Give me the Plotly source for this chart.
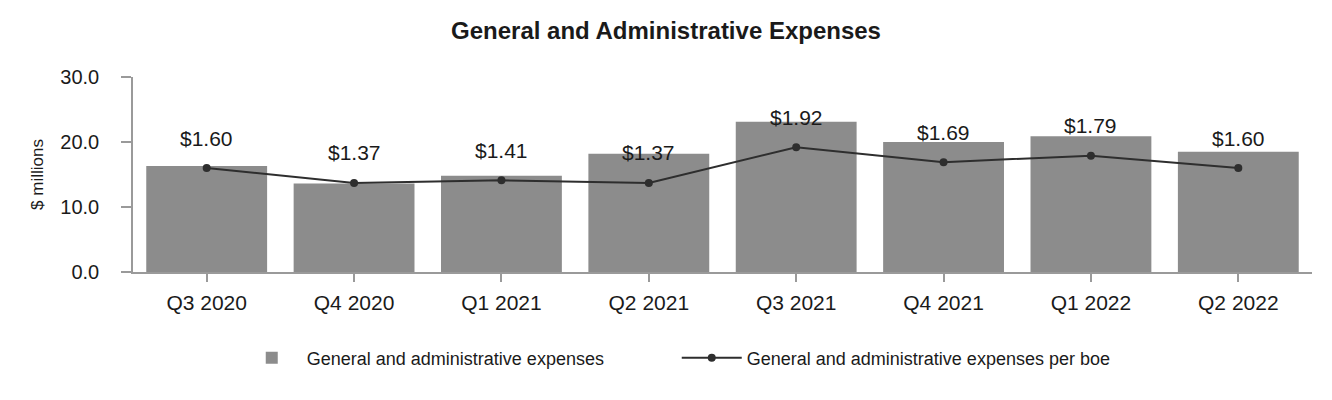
import plotly.graph_objects as go

quarters = ["Q3 2020", "Q4 2020", "Q1 2021", "Q2 2021", "Q3 2021", "Q4 2021", "Q1 2022", "Q2 2022"]
ga_expenses = [16.3, 13.6, 14.8, 18.2, 23.1, 20.0, 20.9, 18.5]
ga_per_boe = [1.60, 1.37, 1.41, 1.37, 1.92, 1.69, 1.79, 1.60]

FONT = "Liberation Sans, Arial, sans-serif"
TXT = "#1a1a1a"
AXC = "#9a9a9a"

fig = go.Figure()
fig.add_trace(go.Bar(
    x=quarters, y=ga_expenses, name="General and administrative expenses",
    marker=dict(color="#8c8c8c", line=dict(width=0)),
))
fig.add_trace(go.Scatter(
    x=quarters, y=ga_per_boe, name="General and administrative expenses per boe",
    yaxis="y2", mode="lines+markers",
    line=dict(color="#2e2e2e", width=2),
    marker=dict(color="#2e2e2e", size=8),
))

for q, v in zip(quarters, ga_per_boe):
    fig.add_annotation(x=q, y=v, yref="y2", text=f"${v:.2f}", showarrow=False,
                       yshift=30, font=dict(family=FONT, size=21, color=TXT))

# figure is drawn inside the page body (8px margin), so sizes are reduced by 16px
fig.update_layout(
    width=1316, height=384,
    margin=dict(l=125, r=12, t=69, b=120),
    paper_bgcolor="white", plot_bgcolor="white",
    font=dict(family=FONT, color=TXT),
    title=dict(text="<b>General and Administrative Expenses</b>", x=0.5, xref="container",
               xanchor="center", y=1 - 23 / 384, yref="container", yanchor="middle",
               font=dict(family=FONT, size=24, color=TXT)),
    bargap=0.18,
    showlegend=True,
    legend=dict(orientation="h", x=0.088, xanchor="left", y=-0.441, yanchor="middle",
                font=dict(family=FONT, size=18, color=TXT), entrywidth=365,
                entrywidthmode="pixels", itemwidth=60, traceorder="normal"),
    xaxis=dict(showline=True, linecolor=AXC, linewidth=1.5, ticks="outside",
               tickcolor=AXC, ticklen=8, tickwidth=1.5, ticklabelstandoff=3,
               tickfont=dict(family=FONT, size=21, color=TXT), showgrid=False),
    yaxis=dict(range=[0, 30], dtick=10, tickformat=".1f", showline=True, linecolor=AXC,
               linewidth=1.5, ticks="outside", tickcolor=AXC, ticklen=10, tickwidth=1.5,
               ticklabelstandoff=18, showgrid=False, zeroline=False,
               tickfont=dict(family=FONT, size=20, color=TXT),
               title=dict(text="$ millions", font=dict(family=FONT, size=17, color=TXT), standoff=12)),
    yaxis2=dict(range=[0, 3], overlaying="y", side="right", visible=False, showgrid=False),
)

fig.write_html("out.html")
